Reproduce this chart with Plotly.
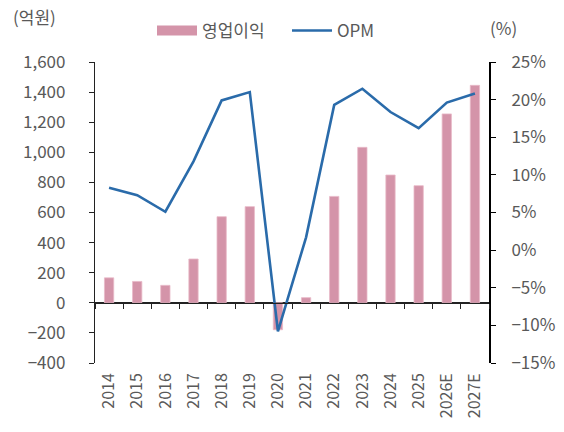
import plotly.graph_objects as go

years = ["2014", "2015", "2016", "2017", "2018", "2019", "2020", "2021",
         "2022", "2023", "2024", "2025", "2026E", "2027E"]
op_profit = [166, 142, 116, 291, 572, 639, -179, 34, 707, 1033, 849, 778, 1255, 1445]
opm = [8.3, 7.3, 5.1, 11.8, 19.9, 21.0, -10.8, 1.7, 19.3, 21.45, 18.35, 16.2, 19.6, 20.8]

left_ticks = [-400, -200, 0, 200, 400, 600, 800, 1000, 1200, 1400, 1600]
left_labels = ["\u2212400", "\u2212200", "0", "200", "400", "600", "800",
               "1,000", "1,200", "1,400", "1,600"]
right_ticks = [-15, -10, -5, 0, 5, 10, 15, 20, 25]
right_labels = ["\u221215%", "\u221210%", "\u22125%", "0%", "5%", "10%", "15%", "20%", "25%"]

FONT = "Noto Sans CJK KR, Noto Sans, sans-serif"
GRAY = "#595959"
PINK = "#D494A9"

L, R, T, B = 95, 75, 62, 69
W, H = 564, 432
pw, ph = W - L - R, H - T - B

fig = go.Figure()
fig.add_trace(go.Bar(x=years, y=op_profit, name="영업이익", legendgroup="op", showlegend=False,
                     marker=dict(color=PINK, line=dict(color="#E8B9C8", width=0.8)),
                     width=0.33, xaxis="x", yaxis="y"))
# legend proxy for the bars (wide pink swatch like the reference)
fig.add_trace(go.Scatter(x=years, y=[None] * len(years), name="영업이익", legendgroup="op",
                         mode="lines", line=dict(color=PINK, width=10),
                         hoverinfo="skip", xaxis="x", yaxis="y"))
fig.add_trace(go.Scatter(x=years, y=opm, name="OPM", mode="lines",
                         line=dict(color="#2A6BAA", width=2.6), xaxis="x", yaxis="y2"))
# invisible trace to hold the zero-line x axis
fig.add_trace(go.Scatter(x=years, y=[0] * len(years), mode="lines", showlegend=False,
                         hoverinfo="skip", line=dict(color="rgba(0,0,0,0)"),
                         xaxis="x2", yaxis="y"))

fig.update_layout(
    width=W, height=H,
    margin=dict(l=L, r=R, t=T, b=B, autoexpand=False),
    plot_bgcolor="white", paper_bgcolor="white",
    font=dict(family=FONT, size=17, color=GRAY),
    showlegend=True,
    legend=dict(orientation="h", x=(152 - L) / pw, xanchor="left",
                y=(H - B - 31) / ph, yanchor="middle",
                font=dict(size=17, color=GRAY), itemwidth=40, tracegroupgap=0,
                entrywidth=80, entrywidthmode="pixels",
                bgcolor="rgba(0,0,0,0)"),
    xaxis=dict(type="category", tickangle=-90, showline=False, ticks="",
               tickfont=dict(size=16, color=GRAY), ticklabelstandoff=6,
               range=[-0.5, 13.5], showgrid=False, zeroline=False, automargin=False),
    xaxis2=dict(type="category", overlaying="x", anchor="free", position=0.2,
                showline=True, linecolor="#222222", linewidth=1.3,
                ticks="outside", tickson="boundaries", ticklen=5, tickcolor="#222222",
                showticklabels=False, range=[-0.5, 13.5], showgrid=False, zeroline=False),
    yaxis=dict(range=[-400, 1600], tickvals=left_ticks, ticktext=left_labels,
               showline=True, linecolor="#222222", linewidth=1.3,
               ticks="outside", ticklen=5, tickcolor="#222222",
               showgrid=False, zeroline=True, zerolinecolor="#222222", zerolinewidth=1.3,
               ticklabelstandoff=20, automargin=False,
               tickfont=dict(size=17, color=GRAY)),
    yaxis2=dict(range=[-15, 25], tickvals=right_ticks, ticktext=right_labels,
                overlaying="y", side="right", anchor="x",
                showline=True, linecolor="#000000", linewidth=2,
                ticks="outside", ticklen=5, tickcolor="#000000",
                showgrid=False, zeroline=False, ticklabelstandoff=12, automargin=False,
                tickfont=dict(size=17, color=GRAY)),
    annotations=[
        dict(text="(억원)", x=(34 - L) / pw, y=(H - B - 16) / ph, xref="paper", yref="paper",
             xanchor="center", yanchor="middle", showarrow=False, font=dict(size=17, color=GRAY)),
        dict(text="(%)", x=(503 - L) / pw, y=(H - B - 27) / ph, xref="paper", yref="paper",
             xanchor="center", yanchor="middle", showarrow=False, font=dict(size=17, color=GRAY)),
    ],
)

fig.write_html("out.html", config={"displayModeBar": False},
               post_script="document.body.style.margin='0';")
